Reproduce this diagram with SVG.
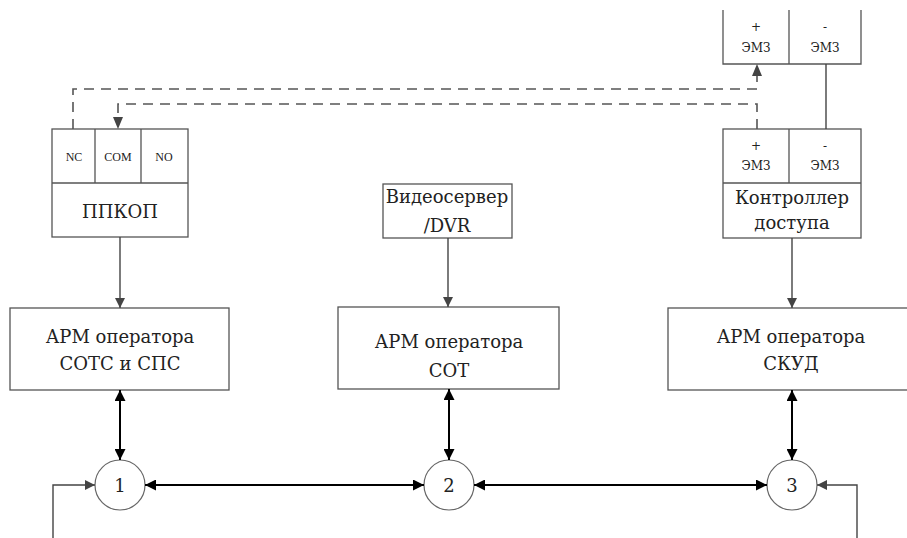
<svg xmlns="http://www.w3.org/2000/svg" width="907" height="538" viewBox="0 0 907 538">
<style>
.box{fill:#fff;stroke:#555;stroke-width:1.3}
text{font-family:'DejaVu Serif','Liberation Serif',serif;fill:#222;text-anchor:middle}
.big{font-size:18px}
.sm{font-size:12px;font-family:'Liberation Serif',serif}
.em{font-size:12px}
.g{fill:none;stroke:#444;stroke-width:1.4}
.k{fill:none;stroke:#000;stroke-width:2}
.d{fill:none;stroke:#555;stroke-width:1.6;stroke-dasharray:10 7}
</style>
<defs>
<marker id="ag" viewBox="0 0 10 10" refX="10" refY="5" markerWidth="10" markerHeight="10" markerUnits="userSpaceOnUse" orient="auto-start-reverse"><path d="M0,0 L10,5 L0,10 z" fill="#444"/></marker>
<marker id="ak" viewBox="0 0 10 10" refX="10" refY="5" markerWidth="11" markerHeight="11" markerUnits="userSpaceOnUse" orient="auto-start-reverse"><path d="M0,0 L10,5 L0,10 z" fill="#000"/></marker>
</defs>
<rect width="907" height="538" fill="#fff"/>
<g id="emz-top">
<path class="box" d="M723,10 V64 H861 V10 M789,10 V64" fill="none"/>
<text class="em" x="756" y="31">+</text>
<text class="em" x="756" y="52">ЭМЗ</text>
<text class="em" x="825" y="31">-</text>
<text class="em" x="825" y="52">ЭМЗ</text>
</g>
<g id="controller">
<rect class="box" x="723" y="129" width="138" height="109"/>
<path class="box" d="M723,183 H861 M789,129 V183"/>
<text class="em" x="756" y="150">+</text>
<text class="em" x="756" y="170">ЭМЗ</text>
<text class="em" x="825" y="150">-</text>
<text class="em" x="825" y="170">ЭМЗ</text>
<text class="big" x="792" y="204">Контроллер</text>
<text class="big" x="792" y="229">доступа</text>
</g>
<g id="ppkop">
<rect class="box" x="52" y="129" width="136" height="108"/>
<path class="box" d="M52,183 H188 M95,129 V183 M141,129 V183"/>
<text class="sm" x="74" y="161">NC</text>
<text class="sm" x="118" y="161">COM</text>
<text class="sm" x="164" y="161">NO</text>
<text class="big" x="120" y="218">ППКОП</text>
</g>
<g id="dvr">
<rect class="box" x="383" y="184" width="129" height="54"/>
<text class="big" x="447" y="203">Видеосервер</text>
<text class="big" x="447" y="232">/DVR</text>
</g>
<g id="arm-sots">
<rect class="box" x="10" y="308" width="219" height="82"/>
<text class="big" x="120" y="343">АРМ оператора</text>
<text class="big" x="120" y="370">СОТС и СПС</text>
</g>
<g id="arm-sot">
<rect class="box" x="338" y="307" width="221" height="82"/>
<text class="big" x="449" y="348">АРМ оператора</text>
<text class="big" x="449" y="377">СОТ</text>
</g>
<g id="arm-skud">
<rect class="box" x="668" y="308" width="250" height="82"/>
<text class="big" x="791" y="343">АРМ оператора</text>
<text class="big" x="791" y="370">СКУД</text>
</g>
<g id="n1">
<circle cx="120" cy="485" r="25" fill="#fff" stroke="#666" stroke-width="1.2"/>
<text style="font-size:18px" x="120" y="492">1</text>
</g>
<g id="n2">
<circle cx="449" cy="485" r="25" fill="#fff" stroke="#666" stroke-width="1.2"/>
<text style="font-size:18px" x="449" y="492">2</text>
</g>
<g id="n3">
<circle cx="792" cy="485" r="25" fill="#fff" stroke="#666" stroke-width="1.2"/>
<text style="font-size:18px" x="792" y="492">3</text>
</g>
<g id="connectors">
<path d="M826,64 V129" stroke="#444" stroke-width="1.4" fill="none"/>
<path class="d" d="M73,129 V89 H757 V74"/>
<path d="M757,64 L752,76 L762,76 z" fill="#444"/>
<path class="d" d="M757,129 V104 H118 V119"/>
<path d="M118,129 L113,117 L123,117 z" fill="#444"/>
<path class="g" d="M120,237 V308" marker-end="url(#ag)"/>
<path class="g" d="M448,238 V307" marker-end="url(#ag)"/>
<path class="g" d="M792,238 V308" marker-end="url(#ag)"/>
<path class="k" d="M120,390 V460" marker-start="url(#ak)" marker-end="url(#ak)"/>
<path class="k" d="M449,389 V460" marker-start="url(#ak)" marker-end="url(#ak)"/>
<path class="k" d="M792,390 V460" marker-start="url(#ak)" marker-end="url(#ak)"/>
<path class="k" d="M145,485 H424" marker-start="url(#ak)" marker-end="url(#ak)"/>
<path class="k" d="M474,485 H767" marker-start="url(#ak)" marker-end="url(#ak)"/>
<path class="g" d="M53,538 V485 H95" marker-end="url(#ag)"/>
<path class="g" d="M857,538 V485 H817" marker-end="url(#ag)"/>
</g>
</svg>
